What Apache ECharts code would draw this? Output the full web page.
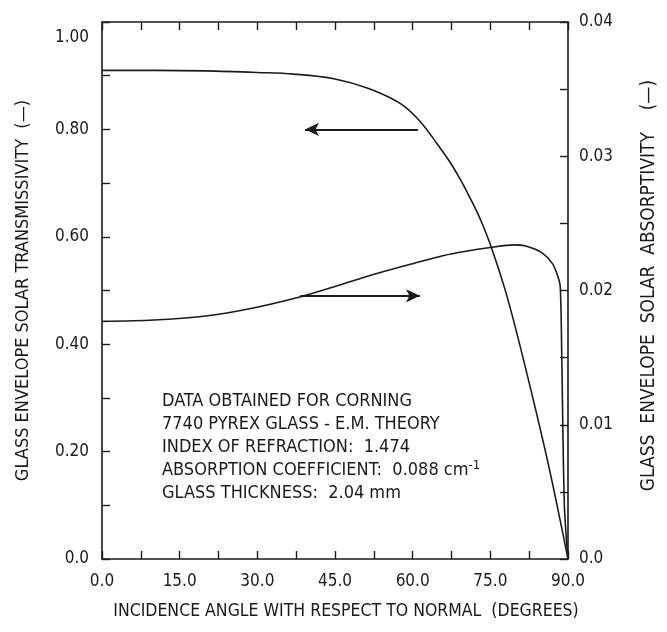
<!DOCTYPE html>
<html>
<head>
<meta charset="utf-8">
<script src="https://cdn.jsdelivr.net/npm/echarts@6/dist/echarts.min.js"></script>
<style>
html,body{margin:0;padding:0;background:#fff;}
#chart{width:667px;height:632px;}
</style>
</head>
<body>
<div id="chart"></div>
<script>
// ---- data ----
const transAngles = [0, 10, 20, 30, 37, 45, 51.5, 57.8, 61.6, 64.8, 67, 69.2, 71.1, 73, 75.2, 78.4, 82.5, 86.3, 90];
const transValues = [0.910, 0.910, 0.909, 0.906, 0.903, 0.894, 0.876, 0.847, 0.813, 0.772, 0.742, 0.707, 0.672, 0.634, 0.580, 0.483, 0.328, 0.172, 0.0];

const absAngles = [0, 10, 20, 28, 38, 45, 53.4, 60, 66, 70, 75, 79.5, 82, 85, 87, 88, 88.5, 88.8, 89.3, 90];
const absValues = [0.0177, 0.0178, 0.0181, 0.0186, 0.0195, 0.0203, 0.0213, 0.0220, 0.0226, 0.0229, 0.0232, 0.0234, 0.0233, 0.0228, 0.0220, 0.0211, 0.0203, 0.0150, 0.0040, 0.0];

const xTickLabels = ['0.0', '15.0', '30.0', '45.0', '60.0', '75.0', '90.0'];
const yLeftTickValues = [0, 0.2, 0.4, 0.6, 0.8, 1.0];
const yLeftTickLabels = ['0.0', '0.20', '0.40', '0.60', '0.80', '1.00'];
const yRightTickValues = [0, 0.01, 0.02, 0.03, 0.04];
const yRightTickLabels = ['0.0', '0.01', '0.02', '0.03', '0.04'];

const xTitle = 'INCIDENCE ANGLE WITH RESPECT TO NORMAL  (DEGREES)';
const yLeftTitle = 'GLASS ENVELOPE SOLAR TRANSMISSIVITY  (\u2014)';
const yRightTitle = 'GLASS  ENVELOPE  SOLAR  ABSORPTIVITY    (\u2014)';

const noteLines = [
  'DATA OBTAINED FOR CORNING',
  '7740 PYREX GLASS - E.M. THEORY',
  'INDEX OF REFRACTION:  1.474',
  'ABSORPTION COEFFICIENT:  0.088 cm{sup|-1}',
  'GLASS THICKNESS:  2.04 mm'
];

// arrows (data coordinates)
const transArrow = {y: 0.80, from: 61.0, to: 39.2};
const absArrow = {y: 0.0196, from: 38.3, to: 61.4};

// ---- chart ----
const FONT = '"Liberation Sans Narrow", "DejaVu Sans Condensed", "Roboto Condensed", sans-serif';
const INK = '#1a1a1a';

function labelFor(values, labels, lowValue) {
  return function (v) {
    for (let i = 0; i < values.length; i++) {
      if (Math.abs(values[i] - v) < 1e-9) {
        return (lowValue !== undefined && Math.abs(v - lowValue) < 1e-9) ? '{low|' + labels[i] + '}' : labels[i];
      }
    }
    return '';
  };
}

const chart = echarts.init(document.getElementById('chart'), null, {renderer: 'canvas'});

const axisLine = {show: true, onZero: false, lineStyle: {color: INK, width: 1.6}};
const tickStyle = {show: true, inside: true, length: 8, lineStyle: {color: INK, width: 1.4}};

chart.setOption({
  backgroundColor: '#ffffff',
  animation: false,
  grid: {left: 102, right: 91, top: 22, bottom: 73, containLabel: false},
  xAxis: [{
    type: 'value', min: 0, max: 90, interval: 7.5, position: 'bottom',
    axisLine: axisLine, axisTick: tickStyle, splitLine: {show: false},
    axisLabel: {
      color: INK, fontFamily: FONT, fontSize: 17, margin: 14,
      formatter: function (v) {
        const idx = Math.round(v / 15);
        return Math.abs(v - idx * 15) < 1e-9 ? xTickLabels[idx] : '';
      }
    },
    name: xTitle, nameLocation: 'middle', nameGap: 43,
    nameTextStyle: {color: INK, fontFamily: FONT, fontSize: 17.5, padding: [0, 0, 0, 22]}
  }, {
    type: 'value', min: 0, max: 90, interval: 7.5, position: 'top',
    axisLine: axisLine, axisTick: tickStyle, axisLabel: {show: false}, splitLine: {show: false}
  }],
  yAxis: [{
    type: 'value', min: 0, max: 1.0, interval: 0.1, position: 'left',
    axisLine: axisLine, axisTick: tickStyle, splitLine: {show: false},
    axisLabel: {color: INK, fontFamily: FONT, fontSize: 17, margin: 13,
      formatter: labelFor(yLeftTickValues, yLeftTickLabels, 1.0),
      rich: {low: {fontFamily: FONT, fontSize: 17, color: INK, padding: [32, 0, 0, 0]}}},
    name: yLeftTitle, nameLocation: 'middle', nameGap: 70, nameRotate: 90,
    nameTextStyle: {color: INK, fontFamily: FONT, fontSize: 18}
  }, {
    type: 'value', min: 0, max: 0.04, interval: 0.005, position: 'right',
    axisLine: axisLine, axisTick: tickStyle, splitLine: {show: false},
    axisLabel: {color: INK, fontFamily: FONT, fontSize: 17, margin: 11,
      formatter: labelFor(yRightTickValues, yRightTickLabels)},
    name: yRightTitle, nameLocation: 'middle', nameGap: 72, nameRotate: 90,
    nameTextStyle: {color: INK, fontFamily: FONT, fontSize: 19, padding: [0, 0, 0, 10]}
  }],
  series: [{
    name: 'Transmissivity', type: 'line', xAxisIndex: 0, yAxisIndex: 0,
    data: transAngles.map((a, i) => [a, transValues[i]]),
    smooth: 0.35, showSymbol: false, symbol: 'none',
    lineStyle: {color: INK, width: 1.6},
    markLine: {
      silent: true, symbol: ['none', 'arrow'], symbolSize: [10, 14],
      label: {show: false},
      lineStyle: {color: INK, width: 2, type: 'solid'},
      data: [[{coord: [transArrow.from, transArrow.y]}, {coord: [transArrow.to, transArrow.y]}]]
    }
  }, {
    name: 'Absorptivity', type: 'line', xAxisIndex: 0, yAxisIndex: 1,
    data: absAngles.map((a, i) => [a, absValues[i]]),
    smooth: 0.3, showSymbol: false, symbol: 'none',
    lineStyle: {color: INK, width: 1.6},
    markLine: {
      silent: true, symbol: ['none', 'arrow'], symbolSize: [10, 14],
      label: {show: false},
      lineStyle: {color: INK, width: 2, type: 'solid'},
      data: [[{coord: [absArrow.from, absArrow.y]}, {coord: [absArrow.to, absArrow.y]}]]
    }
  }],
  graphic: [{
    type: 'text', left: 162, top: 390, silent: true,
    style: {
      text: noteLines.join('\n'),
      fill: INK, font: '18px ' + FONT, lineHeight: 23,
      rich: {sup: {fontSize: 13, verticalAlign: 'top', fill: INK, fontFamily: FONT, padding: [0, 0, 10, 0]}}
    }
  }]
});
</script>
</body>
</html>
